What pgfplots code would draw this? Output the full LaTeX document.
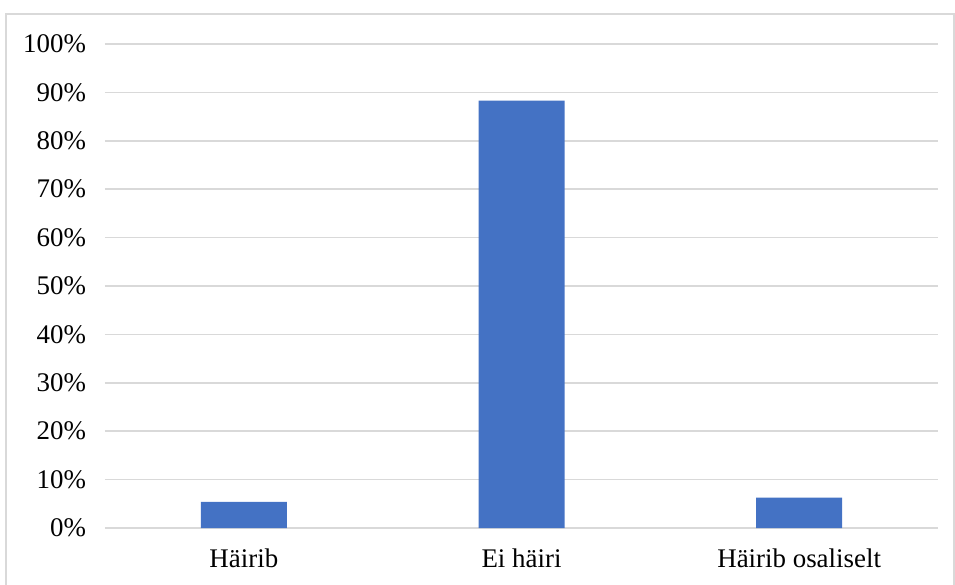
\documentclass[border=0pt]{standalone}
\usepackage{fontspec}
\setmainfont{Liberation Serif}
\usepackage{pgfplots}
\pgfplotsset{compat=1.18}
\definecolor{barblue}{HTML}{4472C4}
\definecolor{gridgray}{HTML}{D9D9D9}
\begin{document}
\begin{tikzpicture}
\begin{axis}[
  name=ax,
  scale only axis,
  width=416.5bp, height=242bp,
  ybar, bar width=43bp, bar shift=0pt,
  xmin=-0.5, xmax=2.5,
  ymin=0, ymax=100,
  xtick={0,1,2},
  xticklabels={Häirib, Ei häiri, Häirib osaliselt},
  ytick={0,10,...,100},
  yticklabels={0\%,10\%,20\%,30\%,40\%,50\%,60\%,70\%,80\%,90\%,100\%},
  ymajorgrids,
  grid style={gridgray, line width=0.8pt},
  axis line style={draw=none},
  major tick length=0pt,
  tick style={draw=none},
  every tick label/.append style={font=\fontsize{13.5}{16}\selectfont, text=black},
  yticklabel style={xshift=-6bp},
  xticklabel style={yshift=-7bp},
  clip=false,
]
\addplot[fill=barblue, draw=none] coordinates {(0,5.4) (1,88.3) (2,6.3)};
\end{axis}
\useasboundingbox ([shift={(-52.5bp,-28.5bp)}]ax.south west) rectangle ([shift={(8.5bp,22bp)}]ax.north east);
\draw[gridgray, line width=0.8pt] ([shift={(-49.5bp,-40bp)}]ax.south west) -- ([shift={(-49.5bp,15bp)}]ax.north west) -- ([shift={(8bp,15bp)}]ax.north east) -- ([shift={(8bp,-40bp)}]ax.south east);
\end{tikzpicture}
\end{document}
